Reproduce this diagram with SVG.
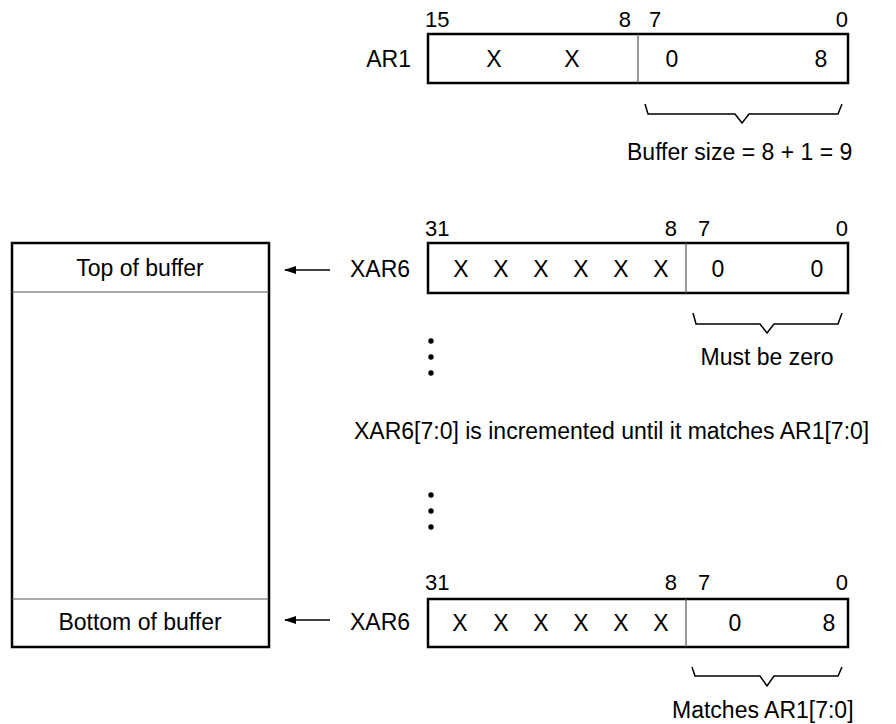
<svg xmlns="http://www.w3.org/2000/svg" width="896" height="724" viewBox="0 0 896 724">
<defs>
<style>
text{font-family:"Liberation Sans",Arial,sans-serif;fill:#000;}
.t{font-size:23px;}
.n{font-size:22px;}
.m{text-anchor:middle;}
.e{text-anchor:end;}
.box{fill:#fff;stroke:#000;stroke-width:2.5;}
.div{stroke:#555;stroke-width:1.2;fill:none;}
.br{fill:none;stroke:#000;stroke-width:1.5;}
.ar{stroke:#000;stroke-width:1.5;fill:none;}
</style>
<marker id="ah" markerWidth="12" markerHeight="8" refX="11" refY="4" orient="auto" markerUnits="userSpaceOnUse">
<path d="M0,0 L12,4 L0,8 Z" fill="#000"/>
</marker>
</defs>

<g id="buffer">
<rect class="box" x="12" y="243" width="257" height="404"/>
<line class="div" x1="12" y1="292" x2="269" y2="292"/>
<line class="div" x1="12" y1="599" x2="269" y2="599"/>
<text class="t m" x="140" y="276">Top of buffer</text>
<text class="t m" x="140" y="630">Bottom of buffer</text>
</g>

<g id="ar1">
<text class="t e" x="411" y="67">AR1</text>
<rect class="box" x="428" y="34" width="420" height="49"/>
<line class="div" x1="638" y1="34" x2="638" y2="83"/>
<text class="n" x="425" y="27">15</text>
<text class="n e" x="631" y="27">8</text>
<text class="n" x="649" y="27">7</text>
<text class="n e" x="848" y="27">0</text>
<text class="t m" x="494" y="67">X</text>
<text class="t m" x="572" y="67">X</text>
<text class="t m" x="672" y="67">0</text>
<text class="t m" x="821" y="67">8</text>
<path class="br" d="M645,104 L648,114 L735,114 L742,123 L749,114 L838,114 L842,104"/>
<text class="t" x="627" y="160">Buffer size = 8 + 1 = 9</text>
</g>

<g id="xar6-top">
<text class="t" x="350" y="277">XAR6</text>
<rect class="box" x="428" y="243" width="420" height="50"/>
<line class="div" x1="686" y1="243" x2="686" y2="293"/>
<text class="n" x="425" y="236">31</text>
<text class="n e" x="677" y="236">8</text>
<text class="n" x="698" y="236">7</text>
<text class="n e" x="848" y="236">0</text>
<text class="t m" x="461" y="277">X</text>
<text class="t m" x="501" y="277">X</text>
<text class="t m" x="541" y="277">X</text>
<text class="t m" x="581" y="277">X</text>
<text class="t m" x="621" y="277">X</text>
<text class="t m" x="661" y="277">X</text>
<text class="t m" x="718" y="277">0</text>
<text class="t m" x="817" y="277">0</text>
<path class="br" d="M693,313 L696,324 L760,324 L767,333 L774,324 L838,324 L842,313"/>
<text class="t m" x="767" y="365">Must be zero</text>
</g>

<g id="xar6-bottom">
<text class="t" x="350" y="630">XAR6</text>
<rect class="box" x="428" y="599" width="420" height="48"/>
<line class="div" x1="686" y1="599" x2="686" y2="647"/>
<text class="n" x="425" y="590">31</text>
<text class="n e" x="677" y="590">8</text>
<text class="n" x="698" y="590">7</text>
<text class="n e" x="848" y="590">0</text>
<text class="t m" x="460" y="631">X</text>
<text class="t m" x="501" y="631">X</text>
<text class="t m" x="541" y="631">X</text>
<text class="t m" x="581" y="631">X</text>
<text class="t m" x="621" y="631">X</text>
<text class="t m" x="661" y="631">X</text>
<text class="t m" x="735" y="631">0</text>
<text class="t m" x="829" y="631">8</text>
<path class="br" d="M692,667 L695,676 L760,676 L767,686 L774,676 L838,676 L842,667"/>
<text class="t" x="672" y="718">Matches AR1[7:0]</text>
</g>

<g id="note">
<text class="t" x="354" y="439">XAR6[7:0] is incremented until it matches AR1[7:0]</text>
<circle cx="431" cy="341" r="2.7"/>
<circle cx="431" cy="357" r="2.7"/>
<circle cx="431" cy="373" r="2.7"/>
<circle cx="431" cy="495" r="2.7"/>
<circle cx="431" cy="511" r="2.7"/>
<circle cx="431" cy="527" r="2.7"/>
</g>

<g id="connectors">
<line class="ar" x1="330" y1="270" x2="285" y2="270" marker-end="url(#ah)"/>
<line class="ar" x1="330" y1="620" x2="285" y2="620" marker-end="url(#ah)"/>
</g>
</svg>
